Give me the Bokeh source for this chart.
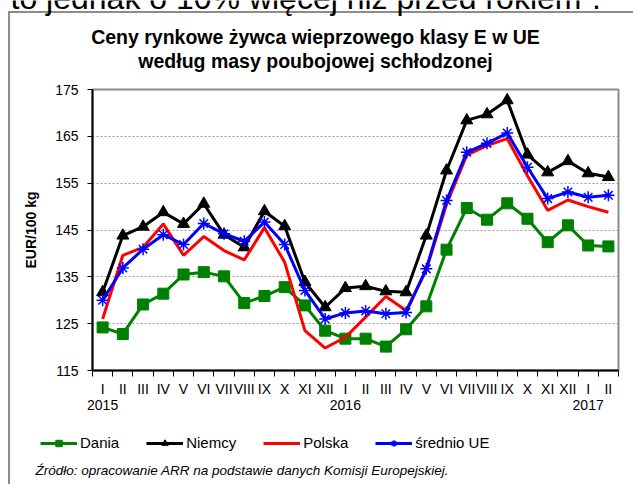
from bokeh.plotting import figure
from bokeh.layouts import column
from bokeh.models import FixedTicker, Legend, LegendItem, Label, Range1d
from bokeh.embed import file_html
from bokeh.resources import INLINE

months = ["I", "II", "III", "IV", "V", "VI", "VII", "VIII", "IX", "X", "XI", "XII",
          "I", "II", "III", "IV", "V", "VI", "VII", "VIII", "IX", "X", "XI", "XII",
          "I", "II"]
years = {0: "2015", 12: "2016", 24: "2017"}

dania = [124.2, 122.8, 129.1, 131.4, 135.5, 136.0, 135.1, 129.4, 130.9, 132.8, 128.9, 123.5,
         121.8, 121.8, 120.1, 123.8, 128.7, 140.8, 149.7, 147.2, 150.7, 147.4, 142.4, 146.0,
         141.7, 141.5]
niemcy = [131.7, 143.8, 145.7, 148.8, 146.3, 150.6, 144.0, 141.3, 149.0, 145.8, 133.9, 128.5,
          132.6, 133.0, 131.9, 131.7, 143.8, 157.7, 168.4, 169.7, 172.7, 161.1, 157.3, 159.7,
          157.1, 156.3]
polska = [126.0, 139.6, 141.3, 146.3, 139.6, 143.6, 140.6, 138.6, 145.5, 138.1, 123.5, 119.8,
          122.1, 126.4, 130.8, 127.8, 136.5, 150.5, 161.0, 163.0, 164.5, 156.6, 149.2, 151.4,
          150.0, 148.8]
ue = [130.0, 136.9, 140.9, 144.0, 141.9, 146.4, 144.2, 142.6, 146.7, 141.9, 132.1, 126.0,
      127.3, 127.7, 127.1, 127.4, 136.7, 151.3, 161.6, 163.5, 165.7, 158.4, 151.7, 153.1,
      152.0, 152.4]
y_ticks = [115, 125, 135, 145, 155, 165, 175]

series = [
    ("Dania", dania, "#008000", "square", 11),
    ("Niemcy", niemcy, "black", "triangle", 12),
    ("Polska", polska, "#ff0000", None, 0),
    ("średnio UE", ue, "#0000ff", "asterisk", 12),
]

FONT = "Liberation Sans"
GRAY = "#8c8c8c"
x = list(range(len(months)))
W = 633


def blank(fig):
    fig.axis.visible = False
    fig.grid.visible = False
    fig.outline_line_color = None
    fig.background_fill_color = None
    fig.border_fill_color = None


def draw(fig):
    rs = []
    for name, vals, col, marker, size in series:
        r = [fig.line(x, vals, color=col, line_width=3)]
        if marker == "asterisk":
            r.append(fig.scatter(x, vals, marker=marker, size=size, line_color=col, line_width=1.5))
        elif marker:
            r.append(fig.scatter(x, vals, marker=marker, size=size, color=col))
        rs.append((name, r))
    return rs


# ---- top strip: text above the chart and the chart title ----
top = figure(width=W, height=72, output_backend="svg", toolbar_location=None,
             x_range=Range1d(0, W), y_range=Range1d(0, 72), min_border=0, frame_align=False)
blank(top)
top.styles = {"background": f"linear-gradient({GRAY}, {GRAY}) 8px 11px / 2px 100% no-repeat, "
                            f"linear-gradient({GRAY}, {GRAY}) 8px 11px / 100% 2px no-repeat, white"}
top.add_layout(Label(x=10, y=75, x_units="screen", y_units="screen",
                     text="to jednak o 10% więcej niż przed rokiem”.",
                     text_align="left", text_baseline="alphabetic", text_font=FONT,
                     text_font_size="32px", text_color="black"))
top.add_layout(Label(x=315, y=36, x_units="screen", y_units="screen",
                     text="Ceny rynkowe żywca wieprzowego klasy E w UE",
                     text_align="center", text_baseline="middle", text_font=FONT,
                     text_font_style="bold", text_font_size="19.5px", text_color="black"))
top.add_layout(Label(x=315, y=12, x_units="screen", y_units="screen",
                     text="według masy poubojowej schłodzonej",
                     text_align="center", text_baseline="middle", text_font=FONT,
                     text_font_style="bold", text_font_size="19.5px", text_color="black"))

# ---- main chart ----
p = figure(width=W, height=346, output_backend="svg", toolbar_location=None,
           x_range=Range1d(-0.5, len(months) - 0.5), y_range=Range1d(115, 175),
           min_border_left=92, min_border_right=15, min_border_top=17, min_border_bottom=48,
           frame_align=False)
p.background_fill_color = "white"
p.border_fill_color = None
p.outline_line_color = GRAY
p.outline_line_width = 2
p.styles = {"background": f"linear-gradient({GRAY}, {GRAY}) 8px 0px / 2px 100% no-repeat, white"}

p.xaxis.ticker = FixedTicker(ticks=x, minor_ticks=[i - 0.5 for i in range(len(months) + 1)])
p.xaxis.major_label_overrides = {i: (m + "\n" + years[i] if i in years else m) for i, m in enumerate(months)}
p.xaxis.major_tick_line_color = None
p.xaxis.major_tick_out = 0
p.xaxis.major_tick_in = 0
p.xaxis.minor_tick_out = 6
p.xaxis.minor_tick_in = 0
p.xaxis.minor_tick_line_color = "black"
p.xaxis.axis_line_color = "black"
p.xaxis.axis_line_width = 2
p.xaxis.major_label_standoff = 4
p.xaxis.major_label_text_font = FONT
p.xaxis.major_label_text_font_size = "14px"
p.xaxis.major_label_text_line_height = 1.05
p.xaxis.major_label_text_color = "black"

p.yaxis.ticker = FixedTicker(ticks=y_ticks)
p.yaxis.minor_tick_line_color = None
p.yaxis.major_tick_out = 5
p.yaxis.major_tick_in = 0
p.yaxis.major_tick_line_color = "black"
p.yaxis.axis_line_color = "black"
p.yaxis.axis_line_width = 2
p.yaxis.major_label_standoff = 9
p.yaxis.major_label_text_font = FONT
p.yaxis.major_label_text_font_size = "14px"
p.yaxis.major_label_text_color = "black"
p.yaxis.axis_label = "EUR/100 kg"
p.yaxis.axis_label_text_font = FONT
p.yaxis.axis_label_text_font_style = "bold"
p.yaxis.axis_label_text_font_size = "14px"
p.yaxis.axis_label_text_color = "black"
p.yaxis.axis_label_standoff = 13

p.xgrid.visible = False
p.ygrid.grid_line_color = "#9a9a9a"
p.ygrid.grid_line_dash = "2 2"

draw(p)

# ---- bottom strip: legend and source ----
bot = figure(width=W, height=66, output_backend="svg", toolbar_location=None,
             x_range=Range1d(-0.5, len(months) - 0.5), y_range=Range1d(0, 66), min_border=0,
             frame_align=False)
blank(bot)
bot.styles = {"background": f"linear-gradient({GRAY}, {GRAY}) 8px 0px / 2px 100% no-repeat, white"}
legend_rs = draw(bot)  # drawn off-range: only used as legend samples
legend = Legend(items=[LegendItem(label=n, renderers=r) for n, r in legend_rs],
                orientation="horizontal", location=(40, 33))
legend.padding = 0
legend.margin = 0
legend.spacing = 27
legend.glyph_width = 37
legend.glyph_height = 16
legend.label_standoff = 3
legend.label_text_font = FONT
legend.label_text_font_size = "15px"
legend.label_text_color = "black"
legend.border_line_color = None
legend.background_fill_alpha = 0
bot.add_layout(legend)
bot.add_layout(Label(x=35, y=14, x_units="screen", y_units="screen",
                     text="Źródło: opracowanie ARR na podstawie danych Komisji Europejskiej.",
                     text_align="left", text_baseline="middle", text_font=FONT,
                     text_font_style="italic", text_font_size="13.5px", text_color="black"))

layout = column(top, p, bot, spacing=0)
open("out.html", "w").write(file_html(layout, INLINE))
